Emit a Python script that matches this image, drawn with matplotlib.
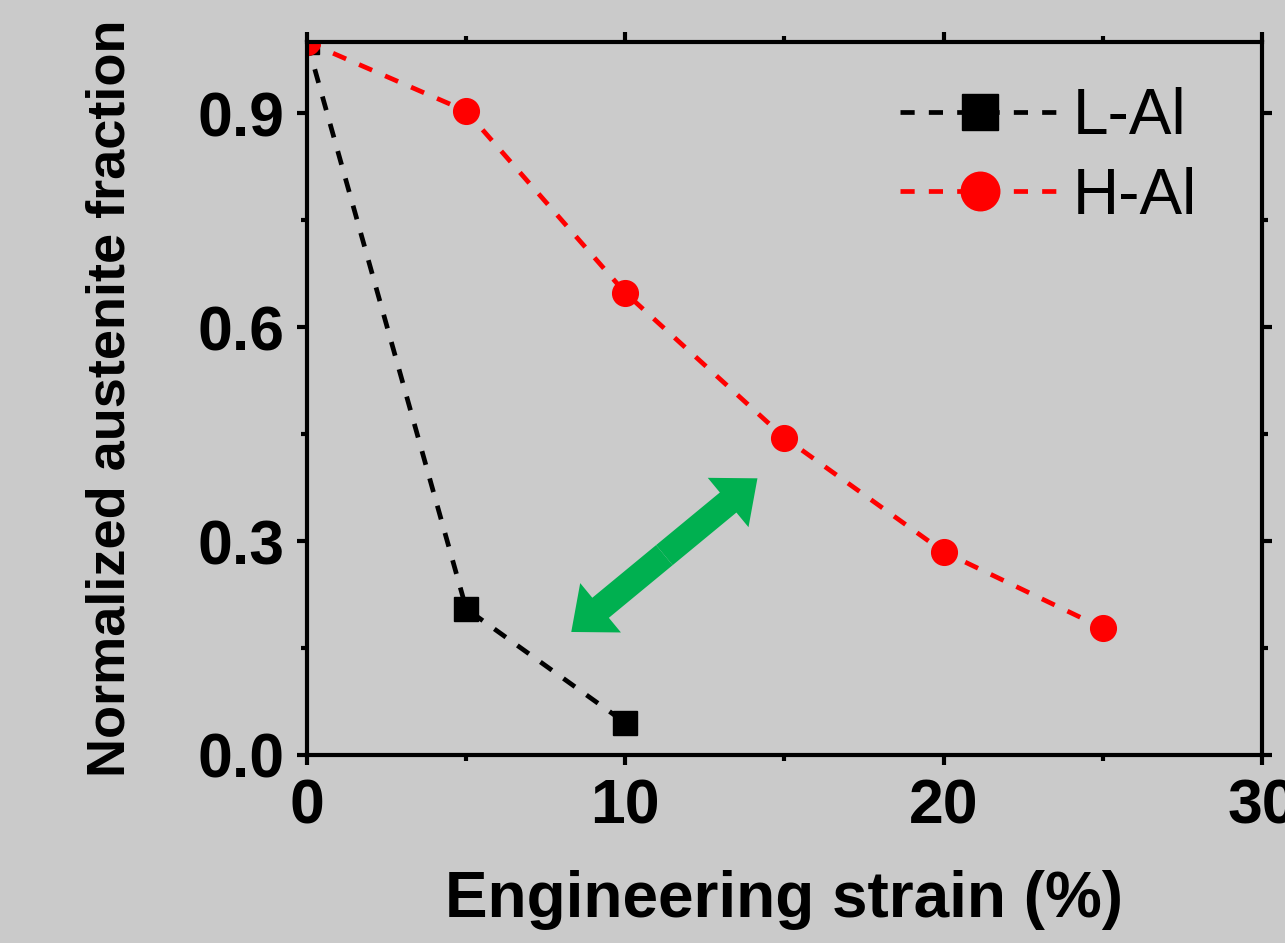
import numpy as np
import matplotlib.pyplot as plt
from matplotlib.ticker import MultipleLocator
from matplotlib.patches import FancyArrow
from matplotlib.transforms import IdentityTransform

# Data
strain_l = [0, 5, 10]
frac_l = [1.0, 0.205, 0.045]
strain_h = [0, 5, 10, 15, 20, 25]
frac_h = [1.0, 0.903, 0.648, 0.445, 0.285, 0.178]

# double arrow end points (data coords)
arrow_a = (8.30, 0.1725)
arrow_b = (14.15, 0.388)

plt.rcParams['font.family'] = ['Liberation Sans', 'DejaVu Sans']

fig = plt.figure(figsize=(12.85, 9.43), dpi=100, facecolor='#cacaca')
ax = fig.add_axes([0.239, 0.1994, 0.743, 0.7561])
ax.set_facecolor('#cbcbcb')

ax.plot(strain_l, frac_l, color='black', lw=3.4, dashes=(3, 3),
        marker='s', ms=17, label='L-Al')
ax.plot(strain_h, frac_h, color='red', lw=3.4, dashes=(3, 3),
        marker='o', ms=18.5, label='H-Al')

ax.set_xlim(0, 30)
ax.set_ylim(0, 1.0)

# green double arrow, drawn in pixel space so the head keeps its shape
pa = ax.transData.transform(arrow_a)
pb = ax.transData.transform(arrow_b)
mid = (pa + pb) / 2
for tip in (pa, pb):
    d = tip - mid
    ax.add_patch(FancyArrow(mid[0], mid[1], d[0], d[1], width=26,
                            head_width=64, head_length=38,
                            length_includes_head=True, color='#00b050',
                            lw=0, transform=IdentityTransform(), clip_on=False))

ax.xaxis.set_major_locator(MultipleLocator(10))
ax.xaxis.set_minor_locator(MultipleLocator(5))
ax.yaxis.set_minor_locator(MultipleLocator(0.15))
ax.set_yticks([0.0, 0.3, 0.6, 0.9])
ax.set_yticklabels(['0.0', '0.3', '0.6', '0.9'])

for s in ax.spines.values():
    s.set_linewidth(3)
ax.tick_params(which='both', direction='out', top=True, right=True,
               width=3, labelsize=45, pad=9)
ax.tick_params(which='major', length=7)
ax.tick_params(which='minor', length=4)
for lab in ax.get_xticklabels() + ax.get_yticklabels():
    lab.set_fontweight('bold')

ax.set_xlabel('Engineering strain (%)', fontsize=46, fontweight='bold',
              labelpad=24)
ax.set_ylabel('Normalized austenite fraction', fontsize=39, fontweight='bold',
              labelpad=45)

leg = ax.legend(loc='upper right', bbox_to_anchor=(0.932, 0.937), frameon=False,
                fontsize=46, markerscale=1.5, handlelength=2.5,
                handletextpad=0.2, labelspacing=0.31, borderpad=0,
                borderaxespad=0)

fig.savefig('out.png', dpi=100, facecolor=fig.get_facecolor())
